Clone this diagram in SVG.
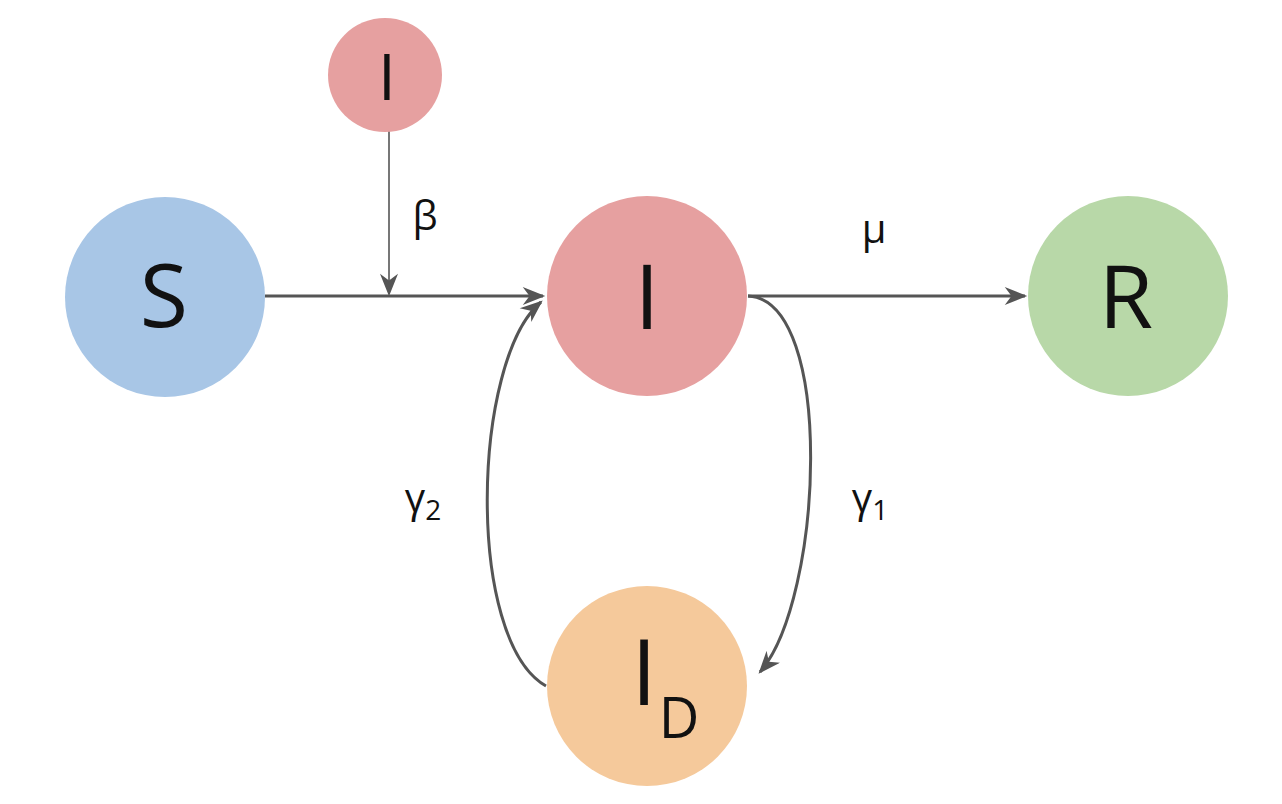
<svg xmlns="http://www.w3.org/2000/svg" width="1282" height="804" viewBox="0 0 1282 804">
<style>
.lbl{font-family:"Open Sans","Liberation Sans",sans-serif;fill:#111;text-anchor:middle}
.edge{fill:none;stroke:#555;stroke-width:3}
.thin{fill:none;stroke:#555;stroke-width:1.6}
</style>
<defs>
<marker id="arrL" viewBox="0 0 20 16" refX="18" refY="8" markerWidth="24" markerHeight="18" markerUnits="userSpaceOnUse" orient="auto">
<path d="M0,0 L20,8 L0,16 L6,8 Z" fill="#555"/>
</marker>
</defs>
<rect width="1282" height="804" fill="#fff"/>
<g id="connectors">
<path class="edge" d="M265,296 L543,296" marker-end="url(#arrL)"/>
<path class="thin" d="M389,131 L389,294" marker-end="url(#arrL)"/>
<path class="edge" d="M748,296 L1025,296" marker-end="url(#arrL)"/>
<path class="edge" d="M748,296 C836,300 823,600 760,672" marker-end="url(#arrL)"/>
<path class="edge" d="M546,686 C465,640 472,360 541,302" marker-end="url(#arrL)"/>
</g>
<g id="labels">
<text class="lbl" x="425" y="230" font-size="40">β</text>
<text class="lbl" x="874" y="243" font-size="40">μ</text>
<text class="lbl" x="423" y="512" font-size="40">γ<tspan font-size="28" dy="8">2</tspan></text>
<text class="lbl" x="870" y="512" font-size="40">γ<tspan font-size="28" dy="8">1</tspan></text>
</g>
<g id="node-S">
<circle cx="165" cy="297" r="100" fill="#a8c6e6"/>
<text class="lbl" x="164" y="327" font-size="88">S</text>
</g>
<g id="node-I-small">
<circle cx="385" cy="75" r="57" fill="#e6a0a0"/>
<text class="lbl" x="387" y="100" font-size="64">I</text>
</g>
<g id="node-I">
<circle cx="647" cy="296" r="100" fill="#e6a0a0"/>
<text class="lbl" x="647" y="329" font-size="90">I</text>
</g>
<g id="node-R">
<circle cx="1128" cy="296" r="100" fill="#b8d8a8"/>
<text class="lbl" x="1126" y="328" font-size="88">R</text>
</g>
<g id="node-ID">
<circle cx="647" cy="686" r="100" fill="#f5c99b"/>
<text class="lbl" x="644" y="705" font-size="92">I</text>
<text class="lbl" x="679" y="738" font-size="56">D</text>
</g>
</svg>
